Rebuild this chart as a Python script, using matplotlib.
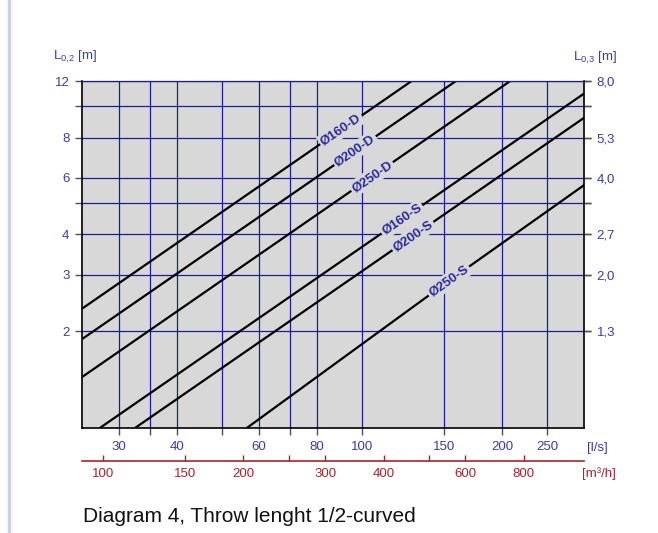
import numpy as np
import matplotlib
matplotlib.use('Agg')
import matplotlib.pyplot as plt
from matplotlib.ticker import NullLocator, FixedLocator
from matplotlib.lines import Line2D

plt.rcParams['font.family'] = ['Liberation Sans', 'DejaVu Sans']
plt.rcParams['mathtext.default'] = 'regular'

# flow [l/s] / throw L0,2 [m]
names = ['Ø160-D', 'Ø200-D', 'Ø250-D', 'Ø160-S', 'Ø200-S', 'Ø250-S']
flow = [
    [25, 127.7],
    [25, 159],
    [25, 208],
    [27.3, 300],
    [32.5, 300],
    [56.5, 150, 300],
]
throw = [
    [2.35, 12],
    [1.89, 12],
    [1.44, 12],
    [1.0, 10.98],
    [1.0, 9.23],
    [1.0, 2.8, 5.7],
]
label_flow = [90, 96.5, 105, 121.7, 128.5, 153.5]

x_ticks = [30, 35, 40, 50, 60, 70, 80, 100, 150, 200, 250]
x_labels = ['30', '', '40', '', '60', '', '80', '100', '150', '200', '250']
y_ticks = [2, 3, 4, 5, 6, 8, 10, 12]
y_labels = ['2', '3', '4', '', '6', '8', '', '12']
y2_labels = ['1,3', '2,0', '2,7', '', '4,0', '5,3', '', '8,0']
m3h_ticks = [100, 150, 200, 250, 300, 400, 500, 600, 800]
m3h_labels = ['100', '150', '200', '', '300', '400', '', '600', '800']

blue = '#1c1c96'
txtblue = '#3c3ca6'
red = '#a3262e'
tickc = '#505050'

W, H = 658, 533
fig = plt.figure(figsize=(W / 100, H / 100), dpi=100)
L, R, T, B = 82, 584.3, 81, 428
ax = fig.add_axes([L / W, 1 - B / H, (R - L) / W, (B - T) / H])
ax.set_facecolor('#d8d8d8')
ax.set_xscale('log')
ax.set_yscale('log')
ax.set_xlim(25, 300)
ax.set_ylim(1, 12)

for v in x_ticks:
    ax.axvline(v, color=blue, lw=0.9, zorder=1)
for v in y_ticks:
    ax.axhline(v, color=blue, lw=0.9, zorder=1)

for q, l in zip(flow, throw):
    ax.plot(q, l, color='black', lw=1.6, zorder=2, solid_capstyle='butt')

ax.xaxis.set_major_locator(FixedLocator(x_ticks))
ax.xaxis.set_minor_locator(NullLocator())
ax.set_xticklabels(x_labels)
ax.yaxis.set_major_locator(FixedLocator(y_ticks))
ax.yaxis.set_minor_locator(NullLocator())
ax.set_yticklabels(y_labels)
ax.tick_params(axis='both', colors=tickc, labelcolor=txtblue, labelsize=9.5,
               length=5, width=1, pad=4)
ax.tick_params(axis='y', left=True, right=True)

for s in ['left', 'right', 'bottom']:
    ax.spines[s].set_color('black')
    ax.spines[s].set_linewidth(1.2)
ax.spines['top'].set_color(blue)
ax.spines['top'].set_linewidth(0.9)

ay = ax.secondary_yaxis('right', functions=(lambda v: v * 2 / 3, lambda v: v * 1.5))
ay.yaxis.set_major_locator(FixedLocator([v * 2 / 3 for v in y_ticks]))
ay.yaxis.set_minor_locator(NullLocator())
ay.set_yticklabels(y2_labels)
ay.tick_params(colors=tickc, labelcolor=txtblue, labelsize=9.5, length=5, width=1, pad=4)
ay.spines['right'].set_visible(False)

sec = ax.secondary_xaxis((B - 461) / (B - T), functions=(lambda q: q * 3.6, lambda m: m / 3.6))
sec.xaxis.set_major_locator(FixedLocator(m3h_ticks))
sec.xaxis.set_minor_locator(NullLocator())
sec.set_xticklabels(m3h_labels)
sec.tick_params(direction='in', colors=red, labelcolor=red, labelsize=9.5, length=4, width=1, pad=5)
sec.spines['bottom'].set_color(red)
sec.spines['bottom'].set_linewidth(1.2)

# line labels
fig.canvas.draw()
for name, q, l, lq in zip(names, flow, throw, label_flow):
    i = max(0, np.searchsorted(q, lq) - 1)
    i = min(i, len(q) - 2)
    lx = np.log10(q)
    ly = np.log10(l)
    t = (np.log10(lq) - lx[i]) / (lx[i + 1] - lx[i])
    yv = 10 ** (ly[i] + t * (ly[i + 1] - ly[i]))
    p0 = ax.transData.transform((q[i], l[i]))
    p1 = ax.transData.transform((q[i + 1], l[i + 1]))
    ang = np.degrees(np.arctan2(p1[1] - p0[1], p1[0] - p0[0]))
    ax.text(lq, yv, name, rotation=ang, rotation_mode='anchor', ha='center', va='center',
            color='#2a2aa0', fontsize=9.5, fontweight='bold', zorder=3,
            bbox=dict(facecolor='#d8d8d8', edgecolor='none', pad=1.5))

fig.text(53 / W, 1 - 57 / H, r'L$_{0{,}2}$ [m]', color=txtblue, fontsize=9.5, va='center', ha='left')
fig.text(573 / W, 1 - 58 / H, r'L$_{0{,}3}$ [m]', color=txtblue, fontsize=9.5, va='center', ha='left')
fig.text(587 / W, 1 - 448 / H, '[l/s]', color=txtblue, fontsize=9.5, va='center', ha='left')
fig.text(582 / W, 1 - 474 / H, '[m³/h]', color=red, fontsize=9.5, va='center', ha='left')
fig.text(83 / W, 1 - 516 / H, 'Diagram 4, Throw lenght 1/2-curved', color='#111111',
         fontsize=15, va='center', ha='left')

fig.add_artist(Line2D([9 / W, 9 / W], [0, 1], color='#c9d0ec', lw=2.5, transform=fig.transFigure))

fig.savefig('out.png', dpi=100)
